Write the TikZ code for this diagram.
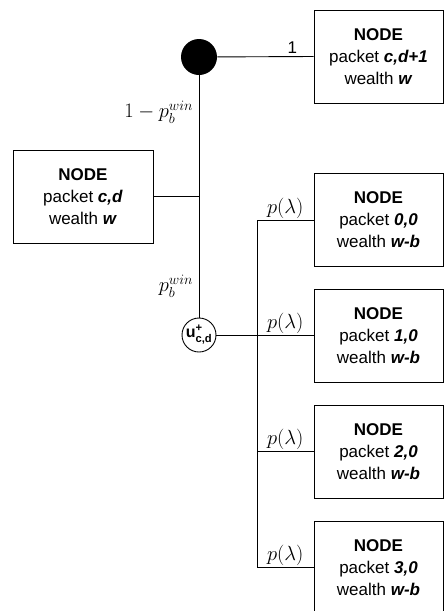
\RequirePackage{fix-cm}
\documentclass[tikz,border=0pt]{standalone}
\usepackage{fontspec}
\usepackage{amsmath}
\setmainfont{Liberation Sans}
\begin{document}
\begin{tikzpicture}[x=1pt,y=-1pt,line width=0.9pt,
        nodebox/.style={draw, align=center, minimum width=129pt, minimum height=93pt,
            inner sep=0pt, font=\fontsize{17}{22}\selectfont},
        plabel/.style={font=\fontsize{20.5}{24}\selectfont, inner sep=1.5pt}]
    \useasboundingbox (0,0) rectangle (445,611);
    \node[nodebox, minimum width=140pt] (start) at (83,196.5)
        {\textbf{NODE}\\packet \textbf{\textit{c,d}}\\wealth \textbf{\textit{w}}};
    \node[nodebox] (next) at (378.5,56.5)
        {\textbf{NODE}\\packet \textbf{\textit{c,d+1}}\\wealth \textbf{\textit{w}}};
    \node[circle, fill=black, minimum size=36pt, inner sep=0pt] (win) at (199,57) {};
    \node[circle, draw, minimum size=34pt, inner sep=0pt,
        font=\fontsize{16}{16}\selectfont\bfseries] (util) at (199,335)
        {u$^{\text{+}}_{\text{c,d}}$};
    \foreach \i/\y in {0/220,1/335.5,2/451.5,3/567.5}
        \node[nodebox] (b\i) at (378.5,\y)
            {\textbf{NODE}\\packet \textbf{\textit{\i,0}}\\wealth \textbf{\textit{w-b}}};
    % lose / win branches
    \coordinate (join) at (win |- start.east);
    \draw (win) -- node[above, pos=0.78, font=\fontsize{17}{20}\selectfont, inner sep=2.5pt] {1} (next.west);
    \draw (win) -- (util);
    \draw (start.east) -- (join);
    \node[plabel, anchor=east] (lose) at (195,112) {$1-p_b^{win}$};
    \node[plabel, anchor=east] (winp) at (195,286) {$p_b^{win}$};
    % arrivals
    \coordinate (bus) at (257,335);
    \draw (util) -- (bus);
    \draw (bus |- b0.west) -- (bus |- b3.west);
    \foreach \i in {0,...,3}
        \draw (bus |- b\i.west) -- node[plabel, above, inner sep=1pt] {$p(\lambda)$} (b\i.west);
\end{tikzpicture}
\end{document}
